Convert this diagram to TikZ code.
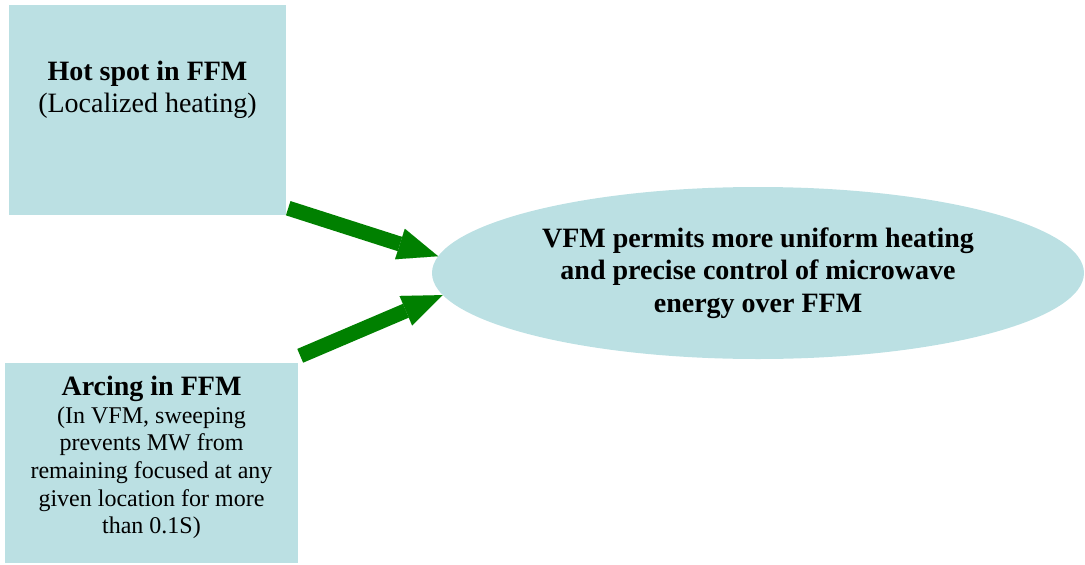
\documentclass[tikz,border=0pt]{standalone}
\usepackage{fontspec}
\setmainfont{Liberation Serif}
\usepackage{tikz}
\usetikzlibrary{arrows.meta,calc,shapes.geometric}
\usepackage{xcolor}

\definecolor{boxfill}{HTML}{BBE0E3}
\definecolor{flowgreen}{HTML}{008000}

\tikzset{
  boxshape/.style={rectangle, fill=boxfill, inner sep=0pt},
  ovalshape/.style={ellipse, fill=boxfill, inner sep=0pt, minimum width=652pt, minimum height=172pt, align=center, font=\bfseries\fontsize{28}{32.5}\selectfont},
  boxtext/.style={anchor=north, inner sep=0pt, align=center},
  flow/.style={draw=flowgreen, line width=15pt, -{Triangle[length=40pt,width=32pt,line width=0.01pt,fill=flowgreen]}}
}

\begin{document}
\begin{tikzpicture}[x=1pt,y=1pt,yscale=-1,xscale=1]
        %set diagram left start at 0, and has height of 565
        \useasboundingbox (0,0) rectangle (1085,565);

        %Shape: Rectangle [hot spot]
        \node[boxshape, minimum width=277pt, minimum height=210pt] (hot) at (147.5,110) {};
        %Shape: Rectangle [arcing]
        \node[boxshape, minimum width=293pt, minimum height=200pt] (arc) at (151.5,463) {};
        %Shape: Ellipse
        \node[ovalshape] (vfm) at (758,273) {VFM permits more uniform heating\\and precise control of microwave\\energy over FFM};

        % Text Node
        \node[boxtext, font=\fontsize{28}{32}\selectfont] (hottxt) at (147.5,61) {\textbf{Hot spot in FFM}\\(Localized heating)};
        % Text Node
        \node[boxtext, font=\fontsize{24}{27.6}\selectfont] (arctxt) at (151.5,376) {\fontsize{28}{32}\selectfont\textbf{Arcing in FFM}\\(In VFM, sweeping\\prevents MW from\\remaining focused at any\\given location for more\\than 0.1S)};

        %Arrows
        \coordinate (hotout) at ($(hot.south east)+(2,-7)$);
        \coordinate (arcout) at ($(arc.north east)+(2,-7)$);
        \draw[flow] (hotout) -- (vfm.177.3);
        \draw[flow] (arcout) -- (vfm.184.8);

\end{tikzpicture}
\end{document}
